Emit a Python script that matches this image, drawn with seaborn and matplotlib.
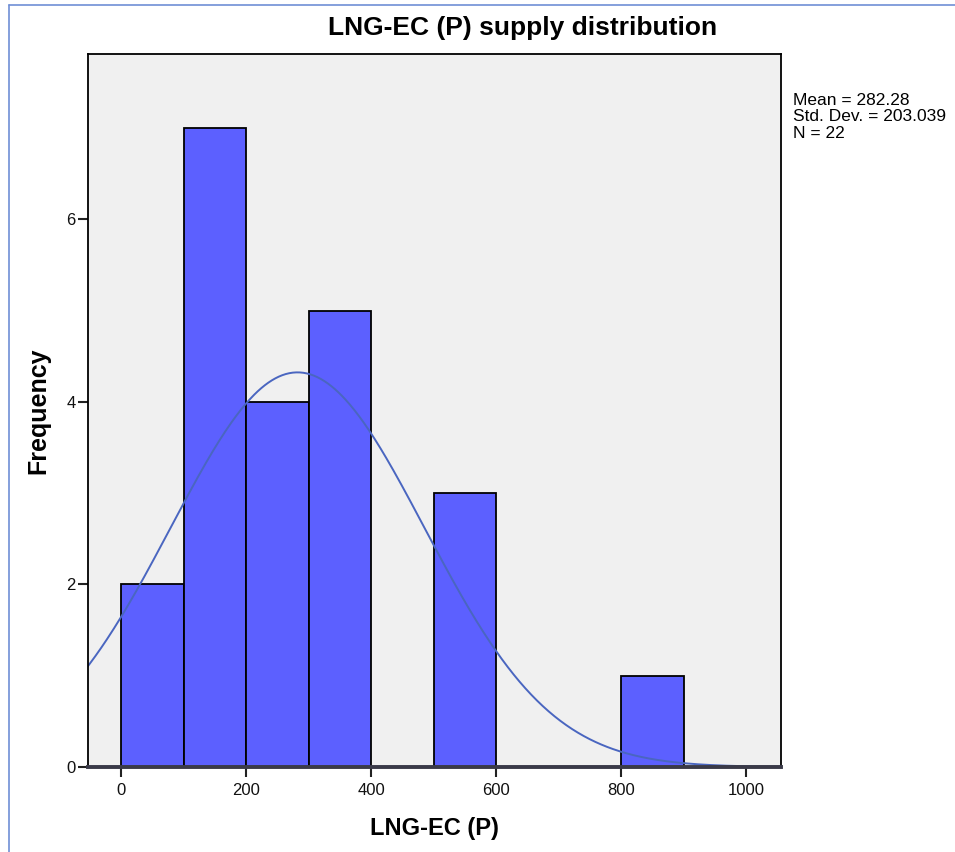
import numpy as np
import pandas as pd
import matplotlib
matplotlib.use("Agg")
import matplotlib.pyplot as plt
from matplotlib.lines import Line2D
import seaborn as sns

# Histogram bins (LNG-EC (P)) and their frequencies
bin_edges = [0, 100, 200, 300, 400, 500, 600, 700, 800, 900]
frequencies = [2, 7, 4, 5, 0, 3, 0, 0, 1]

# Summary statistics shown beside the chart
mean_value = 282.28
std_value = 203.039
n_value = 22

x_ticks = [0, 200, 400, 600, 800, 1000]
y_ticks = [0, 2, 4, 6]

sns.set_theme(style="white")
plt.rcParams["font.family"] = ["Liberation Sans", "DejaVu Sans"]

fig = plt.figure(figsize=(9.55, 8.52), dpi=100)
ax = fig.add_axes([88 / 955, 1 - 767 / 852, (781 - 88) / 955, (767 - 54) / 852])
ax.set_facecolor("#f0f0f0")

centers = [(a + b) / 2 for a, b in zip(bin_edges[:-1], bin_edges[1:])]
df = pd.DataFrame({"value": centers, "count": frequencies})
sns.histplot(data=df, x="value", weights="count", bins=bin_edges, ax=ax,
             color="#5c60ff", alpha=1.0, edgecolor="black", linewidth=1.3)

# Fitted normal curve scaled to counts per bin
width = bin_edges[1] - bin_edges[0]
xs = np.linspace(-60, 1060, 600)
ys = n_value * width / (std_value * np.sqrt(2 * np.pi)) * np.exp(-0.5 * ((xs - mean_value) / std_value) ** 2)
sns.lineplot(x=xs, y=ys, ax=ax, color="#4a66c0", linewidth=1.4)

ax.set_xlim(-53, 1056)
ax.set_ylim(0, 7.81)
ax.set_xticks(x_ticks)
ax.set_yticks(y_ticks)
ax.tick_params(axis="both", direction="out", length=7.5, width=1.5, color="#222222",
               labelsize=12, labelcolor="#111111", bottom=True, left=True)
ax.tick_params(axis="x", pad=4)
ax.tick_params(axis="y", pad=1.5)
for s in ax.spines.values():
    s.set_color("black")
    s.set_linewidth(1.3)
ax.spines["bottom"].set_linewidth(2.8)
ax.spines["bottom"].set_color("#3a3a48")

ax.set_xlabel("LNG-EC (P)", fontsize=17, fontweight="bold", labelpad=14, color="black")
ax.set_ylabel("Frequency", fontsize=18, fontweight="bold", labelpad=11, color="black")

fig.text(523 / 955, 1 - 27.5 / 852, "LNG-EC (P) supply distribution",
         ha="center", va="center", fontsize=19, fontweight="bold", color="black")
fig.text(793 / 955, 1 - 93 / 852,
         f"Mean = {mean_value}\nStd. Dev. = {std_value}\nN = {n_value}",
         ha="left", va="top", fontsize=12.5, linespacing=1.12, color="black")

# Surrounding frame lines
fig.add_artist(Line2D([9 / 955, 9 / 955], [0, 1 - 5 / 852], color="#6f8fd6", linewidth=1.2))
fig.add_artist(Line2D([9 / 955, 1], [1 - 5 / 852, 1 - 5 / 852], color="#6f8fd6", linewidth=1.2))

fig.savefig("out.png", dpi=100)
